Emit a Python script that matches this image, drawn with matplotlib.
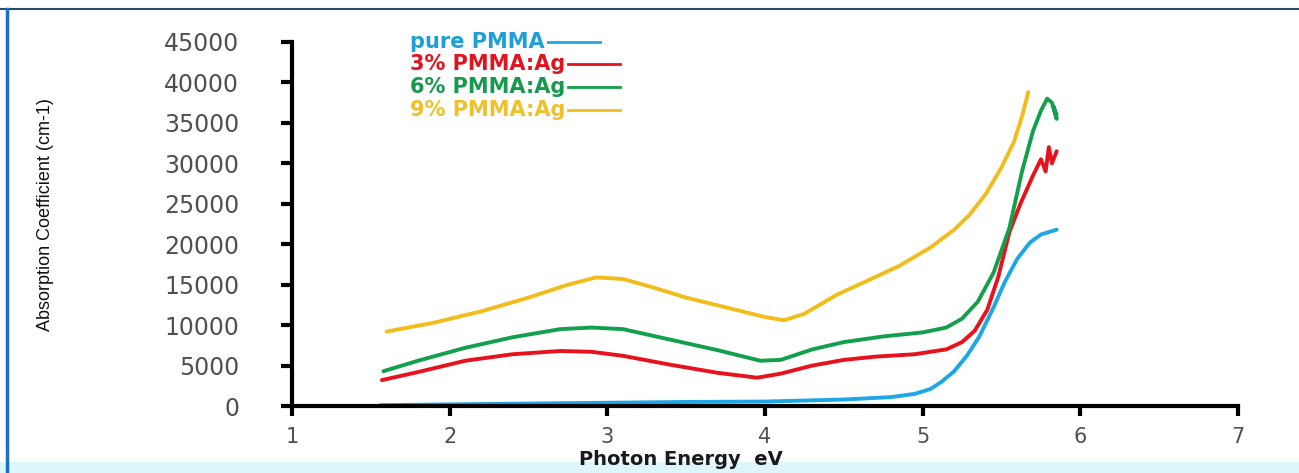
import matplotlib
matplotlib.use("Agg")
import matplotlib.pyplot as plt
from matplotlib.patches import Rectangle
from matplotlib.lines import Line2D

# ---- data ----
labels = ["pure PMMA", "3% PMMA:Ag", "6% PMMA:Ag", "9% PMMA:Ag"]
colors = ["#1fa6e4", "#e8121c", "#13a04c", "#f2bd1a"]
text_colors = ["#1e9fd6", "#e0141e", "#159a4e", "#f0c02a"]

e_pure = [1.56, 2.0, 2.5, 3.0, 3.5, 4.0, 4.5, 4.8, 4.95, 5.05, 5.12, 5.2, 5.28, 5.36,
          5.45, 5.52, 5.6, 5.68, 5.75, 5.8, 5.85]
a_pure = [100, 200, 300, 400, 500, 550, 800, 1100, 1500, 2100, 3000, 4300, 6200, 8600,
          12200, 15300, 18200, 20200, 21200, 21500, 21800]

e_3 = [1.57, 1.8, 2.1, 2.4, 2.7, 2.9, 3.1, 3.4, 3.7, 3.95, 4.1, 4.3, 4.5, 4.7, 4.95,
       5.15, 5.25, 5.33, 5.41, 5.48, 5.55, 5.62, 5.7, 5.75, 5.78, 5.8, 5.82, 5.85]
a_3 = [3200, 4200, 5600, 6400, 6800, 6700, 6200, 5100, 4100, 3500, 4000, 5000, 5700,
       6100, 6400, 7000, 7900, 9300, 11900, 16000, 21500, 25000, 28500, 30500, 29000,
       32000, 30000, 31500]

e_6 = [1.58, 1.8, 2.1, 2.4, 2.7, 2.9, 3.1, 3.4, 3.7, 3.97, 4.1, 4.3, 4.5, 4.75, 5.0,
       5.15, 5.25, 5.35, 5.45, 5.55, 5.63, 5.7, 5.75, 5.79, 5.82, 5.85, 5.83, 5.85]
a_6 = [4300, 5600, 7200, 8500, 9500, 9700, 9500, 8200, 6900, 5600, 5700, 7000, 7900,
       8600, 9100, 9700, 10800, 12900, 16500, 22000, 29000, 34000, 36500, 38000, 37500,
       35500, 37000, 36000]

e_9 = [1.6, 1.9, 2.2, 2.5, 2.75, 2.93, 3.1, 3.3, 3.5, 3.75, 4.0, 4.12, 4.25, 4.45,
       4.65, 4.85, 5.05, 5.2, 5.3, 5.4, 5.5, 5.58, 5.63, 5.67]
a_9 = [9200, 10300, 11700, 13400, 15000, 15900, 15700, 14600, 13400, 12200, 11000,
       10600, 11400, 13700, 15500, 17300, 19600, 21800, 23700, 26200, 29500, 32700,
       35800, 38800]

xticks = [1, 2, 3, 4, 5, 6, 7]
yticks = [0, 5000, 10000, 15000, 20000, 25000, 30000, 35000, 40000, 45000]

W, H = 1299, 473
fig = plt.figure(figsize=(W / 100, H / 100), dpi=100)
fig.patch.set_facecolor("white")

ax = fig.add_axes([292 / W, 1 - 406 / H, (1238 - 292) / W, (406 - 42) / H])
series = [(e_pure, a_pure), (e_3, a_3), (e_6, a_6), (e_9, a_9)]
for (x, y), c in zip(series, colors):
    ax.plot(x, y, color=c, lw=2.8, solid_capstyle="round", solid_joinstyle="round")

ax.set_xlim(1, 7)
ax.set_ylim(0, 45000)
ax.set_xticks(xticks)
ax.set_yticks(yticks)
ax.set_xticklabels([str(v) for v in xticks])
ax.set_yticklabels([str(v) for v in yticks])
for s in ["top", "right"]:
    ax.spines[s].set_visible(False)
for s in ["left", "bottom"]:
    ax.spines[s].set_linewidth(3)
    ax.spines[s].set_color("black")
ax.tick_params(axis="y", direction="out", length=8, width=3, pad=30,
               labelsize=17, labelcolor="#505050")
ax.tick_params(axis="x", direction="out", length=7, width=3, pad=8,
               labelsize=15, labelcolor="#505050")

# legend: text first, then a short line after it
fig.canvas.draw()
renderer = fig.canvas.get_renderer()
row_y = [42, 64, 87, 110]
for lab, c, tc, yy in zip(labels, colors, text_colors, row_y):
    t = fig.text(410 / W, 1 - yy / H, lab, ha="left", va="center",
                 fontsize=15, fontweight="bold", color=tc)
    bb = t.get_window_extent(renderer=renderer)
    x0 = bb.x1 + 3
    fig.add_artist(Line2D([x0 / W, (x0 + 52) / W], [1 - yy / H, 1 - yy / H],
                          transform=fig.transFigure, color=c, lw=2))

fig.text(681 / W, 1 - 459 / H, "Photon Energy  eV", ha="center", va="center",
         fontsize=14, fontweight="bold", color="#1a1a1a")
fig.text(46 / W, 1 - 215 / H, "Absorption Coefficient (cm-1)", rotation=90,
         ha="center", va="center", fontsize=13, color="#111111",
         family=["Liberation Sans Narrow", "Liberation Sans", "DejaVu Sans"])

# frame decorations
fig.add_artist(Rectangle((0, 0), 1, 11 / H, transform=fig.transFigure,
                         facecolor="#dcf6fb", edgecolor="none"))
fig.add_artist(Line2D([0, 1], [1 - 9 / H, 1 - 9 / H], transform=fig.transFigure,
                      color="#2b4a66", lw=1.5))
fig.add_artist(Line2D([7 / W, 7 / W], [0, 1 - 9 / H], transform=fig.transFigure,
                      color="#1a6fc0", lw=2.5))

fig.savefig("out.png", dpi=100, facecolor=fig.get_facecolor())
